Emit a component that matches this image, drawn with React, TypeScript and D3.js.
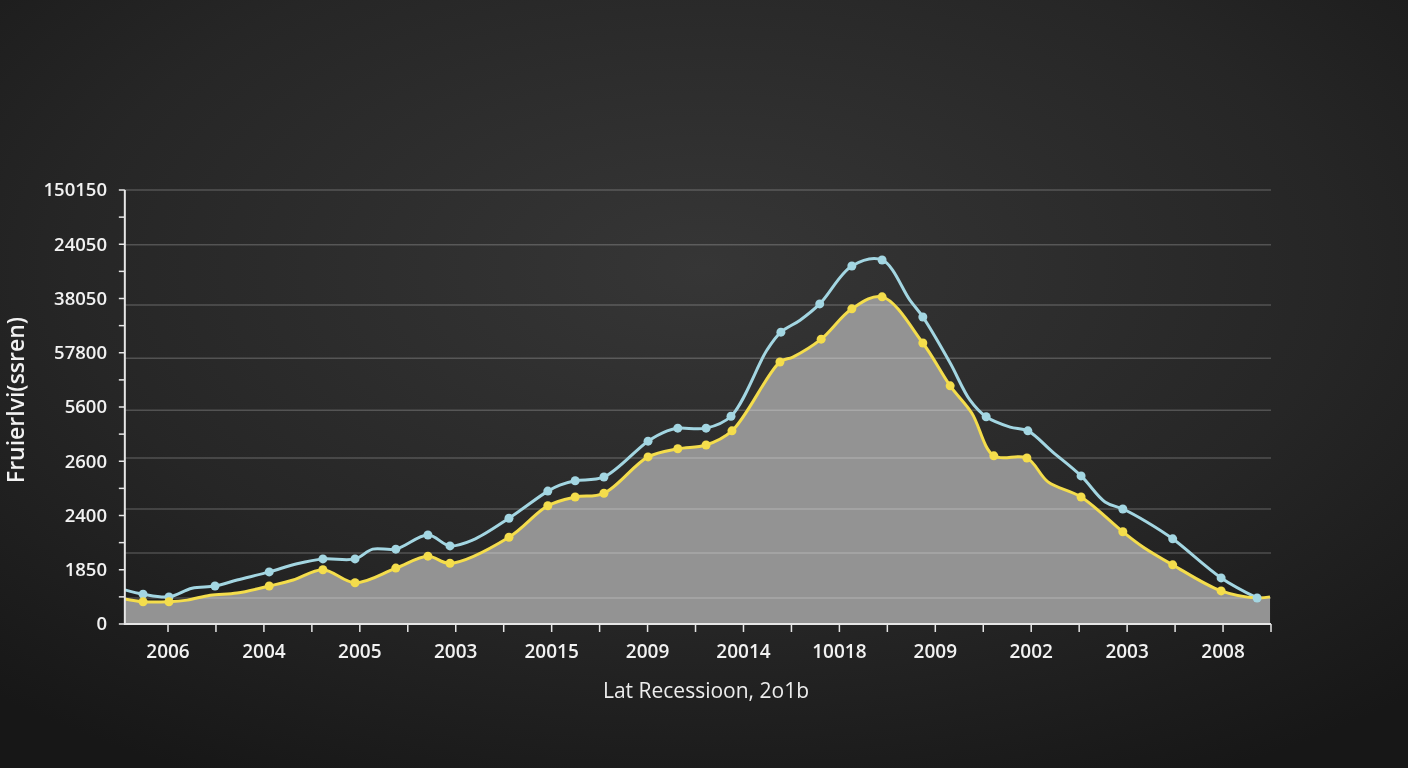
import React, { useMemo } from 'react';
import * as d3 from 'd3';

// x in tick units (one tick per half label step), y in axis units (0..8)
const xTickLabels = ['2006', '2004', '2005', '2003', '20015', '2009', '20014', '10018', '2009', '2002', '2003', '2008'];
const yTickLabels = ['0', '1850', '2400', '2600', '5600', '57800', '38050', '24050', '150150'];
const gridLevels = [8.0, 6.99, 5.88, 4.9, 3.94, 3.06, 2.12, 1.31, 0.48];

const blueX = [-0.9, -0.52, 0.02, 0.5, 0.98, 1.44, 2.11, 2.69, 3.23, 3.9, 4.27, 4.75, 5.42, 5.88, 6.36, 7.11, 7.92, 8.17, 8.49, 9.09, 10.01, 10.41, 10.63, 11.22, 11.74, 12.49, 12.78, 13.18, 13.59, 14.26, 14.89, 15.47, 15.74, 16.31, 16.72, 17.06, 17.56, 17.93, 18.45, 19.04, 19.54, 19.91, 20.41, 20.95, 21.96, 22.71];
const blueY = [0.63, 0.55, 0.5, 0.66, 0.7, 0.81, 0.96, 1.11, 1.2, 1.2, 1.38, 1.38, 1.64, 1.44, 1.55, 1.95, 2.45, 2.56, 2.64, 2.71, 3.37, 3.56, 3.61, 3.61, 3.83, 5.05, 5.38, 5.6, 5.9, 6.6, 6.71, 5.97, 5.66, 4.81, 4.13, 3.82, 3.63, 3.56, 3.17, 2.73, 2.25, 2.12, 1.88, 1.57, 0.85, 0.48];
const blueMarked = [1, 2, 4, 6, 8, 9, 11, 12, 13, 15, 16, 18, 19, 20, 22, 23, 24, 26, 28, 29, 30, 32, 35, 37, 39, 41, 43, 44, 45];

const yellowX = [-0.9, -0.52, 0.02, 0.4, 0.88, 1.44, 2.11, 2.61, 3.23, 3.9, 4.75, 5.42, 5.88, 7.11, 7.92, 8.49, 9.09, 10.01, 10.63, 11.22, 11.76, 12.76, 13.03, 13.62, 14.26, 14.89, 15.74, 16.31, 16.76, 17.22, 17.91, 18.35, 19.04, 19.91, 20.33, 20.95, 21.96, 22.71, 22.98];
const yellowY = [0.46, 0.41, 0.41, 0.44, 0.53, 0.57, 0.7, 0.81, 1.0, 0.76, 1.03, 1.25, 1.12, 1.6, 2.18, 2.34, 2.41, 3.08, 3.23, 3.3, 3.56, 4.83, 4.92, 5.25, 5.81, 6.03, 5.18, 4.39, 3.89, 3.1, 3.06, 2.62, 2.34, 1.7, 1.42, 1.09, 0.61, 0.48, 0.5];
const yellowMarked = [1, 2, 6, 8, 9, 10, 11, 12, 13, 14, 15, 16, 17, 18, 19, 20, 21, 23, 24, 25, 26, 27, 29, 30, 32, 33, 35, 36];

const W = 1408;
const H = 768;
const BLUE = '#a3d6e2';
const YELLOW = '#f4dd4c';
const FONT = '"Open Sans", "DejaVu Sans", sans-serif';

export default function App() {
  const x = useMemo(() => d3.scaleLinear().domain([0, 23]).range([168, 1271]), []);
  const y = useMemo(() => d3.scaleLinear().domain([0, 8]).range([624, 190]), []);

  const blue = blueX.map((v, i) => [v, blueY[i]] as [number, number]);
  const yellow = yellowX.map((v, i) => [v, yellowY[i]] as [number, number]);

  const curve = d3.curveCatmullRom.alpha(0.5);
  const line = d3.line<[number, number]>().x(d => x(d[0])).y(d => y(d[1])).curve(curve);
  const area = d3.area<[number, number]>().x(d => x(d[0])).y0(y(0)).y1(d => y(d[1])).curve(curve);

  const x0 = x(-0.9);
  const x1 = x(23);
  const xTicks = d3.range(0, 24);
  const yTicks = d3.range(0, 8.01, 0.5);

  return (
    <div style={{ position: 'fixed', left: 0, top: 0, width: W, height: H }}>
      <svg width={W} height={H} style={{ display: 'block' }}>
        <defs>
          <radialGradient id="bg" cx="50%" cy="35%" r="75%">
            <stop offset="0%" stopColor="#363636" />
            <stop offset="60%" stopColor="#262626" />
            <stop offset="100%" stopColor="#171717" />
          </radialGradient>
        </defs>
        <rect width={W} height={H} fill="url(#bg)" />

        {/* area under yellow series */}
        <path d={area(yellow) || ''} fill="#939393" />

        {/* grid */}
        {gridLevels.map((g, i) => (
          <line key={i} x1={x0} x2={x1} y1={y(g)} y2={y(g)} stroke="rgba(255,255,255,0.2)" strokeWidth={1.6} />
        ))}

        {/* series */}
        <path d={line(blue) || ''} fill="none" stroke={BLUE} strokeWidth={3} strokeLinejoin="round" />
        <path d={line(yellow) || ''} fill="none" stroke={YELLOW} strokeWidth={3} strokeLinejoin="round" />
        {blueMarked.map(i => (
          <circle key={'b' + i} cx={x(blueX[i])} cy={y(blueY[i])} r={4.5} fill={BLUE} />
        ))}
        {yellowMarked.map(i => (
          <circle key={'y' + i} cx={x(yellowX[i])} cy={y(yellowY[i])} r={4.5} fill={YELLOW} />
        ))}

        {/* y axis */}
        <line x1={x0} x2={x0} y1={y(8)} y2={y(0) + 1} stroke="#e6e6e6" strokeWidth={2} />
        {yTicks.map(t => (
          <line key={t} x1={x0 - 6} x2={x0} y1={y(t)} y2={y(t)} stroke="#e6e6e6" strokeWidth={1.5} />
        ))}
        {yTickLabels.map((lab, i) => (
          <text key={i} x={107} y={y(i)} dy="0.35em" textAnchor="end" fill="#f2f2f2"
            fontFamily={FONT} fontSize={18.5} fontWeight={600}>{lab}</text>
        ))}

        {/* x axis */}
        <line x1={x0} x2={x1} y1={y(0)} y2={y(0)} stroke="#e6e6e6" strokeWidth={2} />
        {xTicks.map(t => (
          <line key={t} x1={x(t)} x2={x(t)} y1={y(0)} y2={y(0) + 8} stroke="#e6e6e6" strokeWidth={1.5} />
        ))}
        {xTickLabels.map((lab, i) => (
          <text key={i} x={x(i * 2)} y={658} textAnchor="middle" fill="#f2f2f2"
            fontFamily={FONT} fontSize={19} fontWeight={600}>{lab}</text>
        ))}

        {/* titles */}
        <text x={706} y={698} textAnchor="middle" fill="#ededed" fontFamily={FONT} fontSize={21}>
          Lat Recessioon, 2o1b
        </text>
        <text transform="translate(24,400) rotate(-90)" textAnchor="middle" fill="#f2f2f2"
          fontFamily={FONT} fontSize={23} fontWeight={600}>
          Fruierlvi(ssren)
        </text>
      </svg>
    </div>
  );
}
